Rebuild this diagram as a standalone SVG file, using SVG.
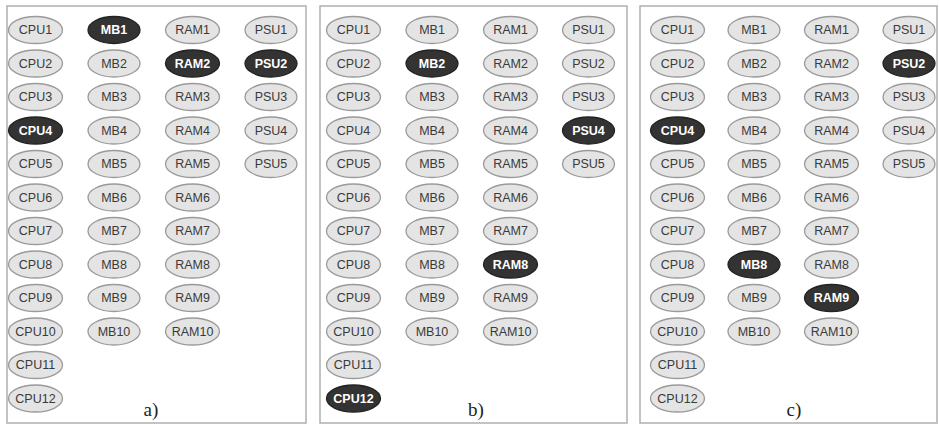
<svg xmlns="http://www.w3.org/2000/svg" width="939" height="424" viewBox="0 0 939 424">
<style>
.panel{fill:#fff;stroke:#b0b0b0;stroke-width:1.5}
.n ellipse{fill:#e4e4e4;stroke:#9a9a9a;stroke-width:1.3}
.n text{font-family:"Liberation Sans",Arial,sans-serif;font-size:12.5px;fill:#3a3a3a;text-anchor:middle;dominant-baseline:central}
.n.on ellipse{fill:#333;stroke:#222}
.n.on text{fill:#fff;font-weight:bold}
.lbl{font-family:"Liberation Serif","Times New Roman",serif;font-size:19px;fill:#222;text-anchor:middle}
</style>
<rect width="939" height="424" fill="#fff"/>
<rect class="panel" x="7" y="6" width="299" height="417"/>
<rect class="panel" x="320" y="6" width="307" height="417"/>
<rect class="panel" x="640" y="6" width="297" height="417"/>
<g id="panel-a">
<g id="a-CPU1" class="n"><ellipse cx="35.5" cy="30" rx="27" ry="13.5"/><text x="35.5" y="30">CPU1</text></g>
<g id="a-CPU2" class="n"><ellipse cx="35.5" cy="63.5" rx="27" ry="13.5"/><text x="35.5" y="63.5">CPU2</text></g>
<g id="a-CPU3" class="n"><ellipse cx="35.5" cy="97" rx="27" ry="13.5"/><text x="35.5" y="97">CPU3</text></g>
<g id="a-CPU4" class="n on"><ellipse cx="35.5" cy="130.5" rx="27" ry="13.5"/><text x="35.5" y="130.5">CPU4</text></g>
<g id="a-CPU5" class="n"><ellipse cx="35.5" cy="164" rx="27" ry="13.5"/><text x="35.5" y="164">CPU5</text></g>
<g id="a-CPU6" class="n"><ellipse cx="35.5" cy="197.5" rx="27" ry="13.5"/><text x="35.5" y="197.5">CPU6</text></g>
<g id="a-CPU7" class="n"><ellipse cx="35.5" cy="231" rx="27" ry="13.5"/><text x="35.5" y="231">CPU7</text></g>
<g id="a-CPU8" class="n"><ellipse cx="35.5" cy="264.5" rx="27" ry="13.5"/><text x="35.5" y="264.5">CPU8</text></g>
<g id="a-CPU9" class="n"><ellipse cx="35.5" cy="298" rx="27" ry="13.5"/><text x="35.5" y="298">CPU9</text></g>
<g id="a-CPU10" class="n"><ellipse cx="35.5" cy="331.5" rx="27" ry="13.5"/><text x="35.5" y="331.5">CPU10</text></g>
<g id="a-CPU11" class="n"><ellipse cx="35.5" cy="365" rx="27" ry="13.5"/><text x="35.5" y="365">CPU11</text></g>
<g id="a-CPU12" class="n"><ellipse cx="35.5" cy="398.5" rx="27" ry="13.5"/><text x="35.5" y="398.5">CPU12</text></g>
<g id="a-MB1" class="n on"><ellipse cx="114" cy="30" rx="26" ry="13.5"/><text x="114" y="30">MB1</text></g>
<g id="a-MB2" class="n"><ellipse cx="114" cy="63.5" rx="26" ry="13.5"/><text x="114" y="63.5">MB2</text></g>
<g id="a-MB3" class="n"><ellipse cx="114" cy="97" rx="26" ry="13.5"/><text x="114" y="97">MB3</text></g>
<g id="a-MB4" class="n"><ellipse cx="114" cy="130.5" rx="26" ry="13.5"/><text x="114" y="130.5">MB4</text></g>
<g id="a-MB5" class="n"><ellipse cx="114" cy="164" rx="26" ry="13.5"/><text x="114" y="164">MB5</text></g>
<g id="a-MB6" class="n"><ellipse cx="114" cy="197.5" rx="26" ry="13.5"/><text x="114" y="197.5">MB6</text></g>
<g id="a-MB7" class="n"><ellipse cx="114" cy="231" rx="26" ry="13.5"/><text x="114" y="231">MB7</text></g>
<g id="a-MB8" class="n"><ellipse cx="114" cy="264.5" rx="26" ry="13.5"/><text x="114" y="264.5">MB8</text></g>
<g id="a-MB9" class="n"><ellipse cx="114" cy="298" rx="26" ry="13.5"/><text x="114" y="298">MB9</text></g>
<g id="a-MB10" class="n"><ellipse cx="114" cy="331.5" rx="26" ry="13.5"/><text x="114" y="331.5">MB10</text></g>
<g id="a-RAM1" class="n"><ellipse cx="192.5" cy="30" rx="27" ry="13.5"/><text x="192.5" y="30">RAM1</text></g>
<g id="a-RAM2" class="n on"><ellipse cx="192.5" cy="63.5" rx="27" ry="13.5"/><text x="192.5" y="63.5">RAM2</text></g>
<g id="a-RAM3" class="n"><ellipse cx="192.5" cy="97" rx="27" ry="13.5"/><text x="192.5" y="97">RAM3</text></g>
<g id="a-RAM4" class="n"><ellipse cx="192.5" cy="130.5" rx="27" ry="13.5"/><text x="192.5" y="130.5">RAM4</text></g>
<g id="a-RAM5" class="n"><ellipse cx="192.5" cy="164" rx="27" ry="13.5"/><text x="192.5" y="164">RAM5</text></g>
<g id="a-RAM6" class="n"><ellipse cx="192.5" cy="197.5" rx="27" ry="13.5"/><text x="192.5" y="197.5">RAM6</text></g>
<g id="a-RAM7" class="n"><ellipse cx="192.5" cy="231" rx="27" ry="13.5"/><text x="192.5" y="231">RAM7</text></g>
<g id="a-RAM8" class="n"><ellipse cx="192.5" cy="264.5" rx="27" ry="13.5"/><text x="192.5" y="264.5">RAM8</text></g>
<g id="a-RAM9" class="n"><ellipse cx="192.5" cy="298" rx="27" ry="13.5"/><text x="192.5" y="298">RAM9</text></g>
<g id="a-RAM10" class="n"><ellipse cx="192.5" cy="331.5" rx="27" ry="13.5"/><text x="192.5" y="331.5">RAM10</text></g>
<g id="a-PSU1" class="n"><ellipse cx="271" cy="30" rx="26" ry="13.5"/><text x="271" y="30">PSU1</text></g>
<g id="a-PSU2" class="n on"><ellipse cx="271" cy="63.5" rx="26" ry="13.5"/><text x="271" y="63.5">PSU2</text></g>
<g id="a-PSU3" class="n"><ellipse cx="271" cy="97" rx="26" ry="13.5"/><text x="271" y="97">PSU3</text></g>
<g id="a-PSU4" class="n"><ellipse cx="271" cy="130.5" rx="26" ry="13.5"/><text x="271" y="130.5">PSU4</text></g>
<g id="a-PSU5" class="n"><ellipse cx="271" cy="164" rx="26" ry="13.5"/><text x="271" y="164">PSU5</text></g>
<text class="lbl" x="151" y="416">a)</text>
</g>
<g id="panel-b">
<g id="b-CPU1" class="n"><ellipse cx="353.5" cy="30" rx="27" ry="13.5"/><text x="353.5" y="30">CPU1</text></g>
<g id="b-CPU2" class="n"><ellipse cx="353.5" cy="63.5" rx="27" ry="13.5"/><text x="353.5" y="63.5">CPU2</text></g>
<g id="b-CPU3" class="n"><ellipse cx="353.5" cy="97" rx="27" ry="13.5"/><text x="353.5" y="97">CPU3</text></g>
<g id="b-CPU4" class="n"><ellipse cx="353.5" cy="130.5" rx="27" ry="13.5"/><text x="353.5" y="130.5">CPU4</text></g>
<g id="b-CPU5" class="n"><ellipse cx="353.5" cy="164" rx="27" ry="13.5"/><text x="353.5" y="164">CPU5</text></g>
<g id="b-CPU6" class="n"><ellipse cx="353.5" cy="197.5" rx="27" ry="13.5"/><text x="353.5" y="197.5">CPU6</text></g>
<g id="b-CPU7" class="n"><ellipse cx="353.5" cy="231" rx="27" ry="13.5"/><text x="353.5" y="231">CPU7</text></g>
<g id="b-CPU8" class="n"><ellipse cx="353.5" cy="264.5" rx="27" ry="13.5"/><text x="353.5" y="264.5">CPU8</text></g>
<g id="b-CPU9" class="n"><ellipse cx="353.5" cy="298" rx="27" ry="13.5"/><text x="353.5" y="298">CPU9</text></g>
<g id="b-CPU10" class="n"><ellipse cx="353.5" cy="331.5" rx="27" ry="13.5"/><text x="353.5" y="331.5">CPU10</text></g>
<g id="b-CPU11" class="n"><ellipse cx="353.5" cy="365" rx="27" ry="13.5"/><text x="353.5" y="365">CPU11</text></g>
<g id="b-CPU12" class="n on"><ellipse cx="353.5" cy="398.5" rx="27" ry="13.5"/><text x="353.5" y="398.5">CPU12</text></g>
<g id="b-MB1" class="n"><ellipse cx="432" cy="30" rx="26" ry="13.5"/><text x="432" y="30">MB1</text></g>
<g id="b-MB2" class="n on"><ellipse cx="432" cy="63.5" rx="26" ry="13.5"/><text x="432" y="63.5">MB2</text></g>
<g id="b-MB3" class="n"><ellipse cx="432" cy="97" rx="26" ry="13.5"/><text x="432" y="97">MB3</text></g>
<g id="b-MB4" class="n"><ellipse cx="432" cy="130.5" rx="26" ry="13.5"/><text x="432" y="130.5">MB4</text></g>
<g id="b-MB5" class="n"><ellipse cx="432" cy="164" rx="26" ry="13.5"/><text x="432" y="164">MB5</text></g>
<g id="b-MB6" class="n"><ellipse cx="432" cy="197.5" rx="26" ry="13.5"/><text x="432" y="197.5">MB6</text></g>
<g id="b-MB7" class="n"><ellipse cx="432" cy="231" rx="26" ry="13.5"/><text x="432" y="231">MB7</text></g>
<g id="b-MB8" class="n"><ellipse cx="432" cy="264.5" rx="26" ry="13.5"/><text x="432" y="264.5">MB8</text></g>
<g id="b-MB9" class="n"><ellipse cx="432" cy="298" rx="26" ry="13.5"/><text x="432" y="298">MB9</text></g>
<g id="b-MB10" class="n"><ellipse cx="432" cy="331.5" rx="26" ry="13.5"/><text x="432" y="331.5">MB10</text></g>
<g id="b-RAM1" class="n"><ellipse cx="510.5" cy="30" rx="27" ry="13.5"/><text x="510.5" y="30">RAM1</text></g>
<g id="b-RAM2" class="n"><ellipse cx="510.5" cy="63.5" rx="27" ry="13.5"/><text x="510.5" y="63.5">RAM2</text></g>
<g id="b-RAM3" class="n"><ellipse cx="510.5" cy="97" rx="27" ry="13.5"/><text x="510.5" y="97">RAM3</text></g>
<g id="b-RAM4" class="n"><ellipse cx="510.5" cy="130.5" rx="27" ry="13.5"/><text x="510.5" y="130.5">RAM4</text></g>
<g id="b-RAM5" class="n"><ellipse cx="510.5" cy="164" rx="27" ry="13.5"/><text x="510.5" y="164">RAM5</text></g>
<g id="b-RAM6" class="n"><ellipse cx="510.5" cy="197.5" rx="27" ry="13.5"/><text x="510.5" y="197.5">RAM6</text></g>
<g id="b-RAM7" class="n"><ellipse cx="510.5" cy="231" rx="27" ry="13.5"/><text x="510.5" y="231">RAM7</text></g>
<g id="b-RAM8" class="n on"><ellipse cx="510.5" cy="264.5" rx="27" ry="13.5"/><text x="510.5" y="264.5">RAM8</text></g>
<g id="b-RAM9" class="n"><ellipse cx="510.5" cy="298" rx="27" ry="13.5"/><text x="510.5" y="298">RAM9</text></g>
<g id="b-RAM10" class="n"><ellipse cx="510.5" cy="331.5" rx="27" ry="13.5"/><text x="510.5" y="331.5">RAM10</text></g>
<g id="b-PSU1" class="n"><ellipse cx="588.5" cy="30" rx="26" ry="13.5"/><text x="588.5" y="30">PSU1</text></g>
<g id="b-PSU2" class="n"><ellipse cx="588.5" cy="63.5" rx="26" ry="13.5"/><text x="588.5" y="63.5">PSU2</text></g>
<g id="b-PSU3" class="n"><ellipse cx="588.5" cy="97" rx="26" ry="13.5"/><text x="588.5" y="97">PSU3</text></g>
<g id="b-PSU4" class="n on"><ellipse cx="588.5" cy="130.5" rx="26" ry="13.5"/><text x="588.5" y="130.5">PSU4</text></g>
<g id="b-PSU5" class="n"><ellipse cx="588.5" cy="164" rx="26" ry="13.5"/><text x="588.5" y="164">PSU5</text></g>
<text class="lbl" x="476" y="416">b)</text>
</g>
<g id="panel-c">
<g id="c-CPU1" class="n"><ellipse cx="677.5" cy="30" rx="27" ry="13.5"/><text x="677.5" y="30">CPU1</text></g>
<g id="c-CPU2" class="n"><ellipse cx="677.5" cy="63.5" rx="27" ry="13.5"/><text x="677.5" y="63.5">CPU2</text></g>
<g id="c-CPU3" class="n"><ellipse cx="677.5" cy="97" rx="27" ry="13.5"/><text x="677.5" y="97">CPU3</text></g>
<g id="c-CPU4" class="n on"><ellipse cx="677.5" cy="130.5" rx="27" ry="13.5"/><text x="677.5" y="130.5">CPU4</text></g>
<g id="c-CPU5" class="n"><ellipse cx="677.5" cy="164" rx="27" ry="13.5"/><text x="677.5" y="164">CPU5</text></g>
<g id="c-CPU6" class="n"><ellipse cx="677.5" cy="197.5" rx="27" ry="13.5"/><text x="677.5" y="197.5">CPU6</text></g>
<g id="c-CPU7" class="n"><ellipse cx="677.5" cy="231" rx="27" ry="13.5"/><text x="677.5" y="231">CPU7</text></g>
<g id="c-CPU8" class="n"><ellipse cx="677.5" cy="264.5" rx="27" ry="13.5"/><text x="677.5" y="264.5">CPU8</text></g>
<g id="c-CPU9" class="n"><ellipse cx="677.5" cy="298" rx="27" ry="13.5"/><text x="677.5" y="298">CPU9</text></g>
<g id="c-CPU10" class="n"><ellipse cx="677.5" cy="331.5" rx="27" ry="13.5"/><text x="677.5" y="331.5">CPU10</text></g>
<g id="c-CPU11" class="n"><ellipse cx="677.5" cy="365" rx="27" ry="13.5"/><text x="677.5" y="365">CPU11</text></g>
<g id="c-CPU12" class="n"><ellipse cx="677.5" cy="398.5" rx="27" ry="13.5"/><text x="677.5" y="398.5">CPU12</text></g>
<g id="c-MB1" class="n"><ellipse cx="754" cy="30" rx="26" ry="13.5"/><text x="754" y="30">MB1</text></g>
<g id="c-MB2" class="n"><ellipse cx="754" cy="63.5" rx="26" ry="13.5"/><text x="754" y="63.5">MB2</text></g>
<g id="c-MB3" class="n"><ellipse cx="754" cy="97" rx="26" ry="13.5"/><text x="754" y="97">MB3</text></g>
<g id="c-MB4" class="n"><ellipse cx="754" cy="130.5" rx="26" ry="13.5"/><text x="754" y="130.5">MB4</text></g>
<g id="c-MB5" class="n"><ellipse cx="754" cy="164" rx="26" ry="13.5"/><text x="754" y="164">MB5</text></g>
<g id="c-MB6" class="n"><ellipse cx="754" cy="197.5" rx="26" ry="13.5"/><text x="754" y="197.5">MB6</text></g>
<g id="c-MB7" class="n"><ellipse cx="754" cy="231" rx="26" ry="13.5"/><text x="754" y="231">MB7</text></g>
<g id="c-MB8" class="n on"><ellipse cx="754" cy="264.5" rx="26" ry="13.5"/><text x="754" y="264.5">MB8</text></g>
<g id="c-MB9" class="n"><ellipse cx="754" cy="298" rx="26" ry="13.5"/><text x="754" y="298">MB9</text></g>
<g id="c-MB10" class="n"><ellipse cx="754" cy="331.5" rx="26" ry="13.5"/><text x="754" y="331.5">MB10</text></g>
<g id="c-RAM1" class="n"><ellipse cx="831.5" cy="30" rx="27" ry="13.5"/><text x="831.5" y="30">RAM1</text></g>
<g id="c-RAM2" class="n"><ellipse cx="831.5" cy="63.5" rx="27" ry="13.5"/><text x="831.5" y="63.5">RAM2</text></g>
<g id="c-RAM3" class="n"><ellipse cx="831.5" cy="97" rx="27" ry="13.5"/><text x="831.5" y="97">RAM3</text></g>
<g id="c-RAM4" class="n"><ellipse cx="831.5" cy="130.5" rx="27" ry="13.5"/><text x="831.5" y="130.5">RAM4</text></g>
<g id="c-RAM5" class="n"><ellipse cx="831.5" cy="164" rx="27" ry="13.5"/><text x="831.5" y="164">RAM5</text></g>
<g id="c-RAM6" class="n"><ellipse cx="831.5" cy="197.5" rx="27" ry="13.5"/><text x="831.5" y="197.5">RAM6</text></g>
<g id="c-RAM7" class="n"><ellipse cx="831.5" cy="231" rx="27" ry="13.5"/><text x="831.5" y="231">RAM7</text></g>
<g id="c-RAM8" class="n"><ellipse cx="831.5" cy="264.5" rx="27" ry="13.5"/><text x="831.5" y="264.5">RAM8</text></g>
<g id="c-RAM9" class="n on"><ellipse cx="831.5" cy="298" rx="27" ry="13.5"/><text x="831.5" y="298">RAM9</text></g>
<g id="c-RAM10" class="n"><ellipse cx="831.5" cy="331.5" rx="27" ry="13.5"/><text x="831.5" y="331.5">RAM10</text></g>
<g id="c-PSU1" class="n"><ellipse cx="909" cy="30" rx="26" ry="13.5"/><text x="909" y="30">PSU1</text></g>
<g id="c-PSU2" class="n on"><ellipse cx="909" cy="63.5" rx="26" ry="13.5"/><text x="909" y="63.5">PSU2</text></g>
<g id="c-PSU3" class="n"><ellipse cx="909" cy="97" rx="26" ry="13.5"/><text x="909" y="97">PSU3</text></g>
<g id="c-PSU4" class="n"><ellipse cx="909" cy="130.5" rx="26" ry="13.5"/><text x="909" y="130.5">PSU4</text></g>
<g id="c-PSU5" class="n"><ellipse cx="909" cy="164" rx="26" ry="13.5"/><text x="909" y="164">PSU5</text></g>
<text class="lbl" x="794" y="416">c)</text>
</g>
</svg>
